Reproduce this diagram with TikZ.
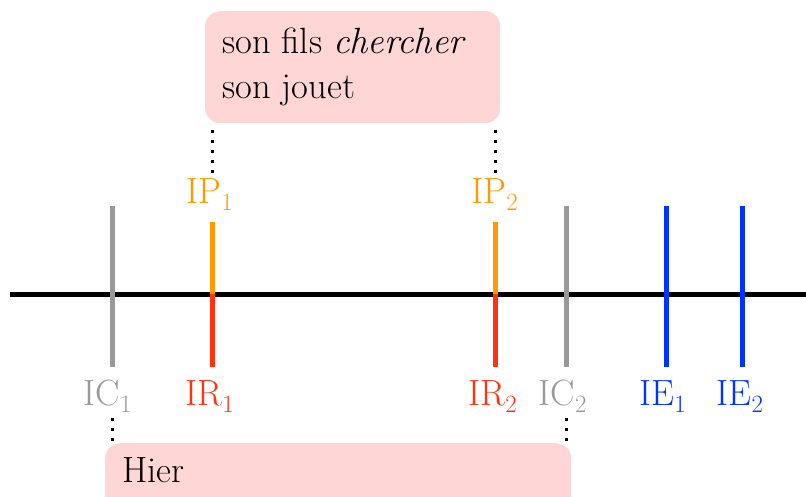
\documentclass[tikz,border=0pt]{standalone}
\usepackage{fontspec}
\begin{document}
\begin{tikzpicture}[x=1pt,y=-1pt,
  boxst/.style={fill=boxpink, rounded corners=15pt, inner sep=0pt},
  txt/.style={inner sep=0pt, font=\fontsize{36.5}{45}\selectfont},
  tick/.style={line width=5pt},
  conn/.style={line width=3pt, dash pattern=on 3pt off 7pt, line cap=butt}]
\definecolor{boxpink}{HTML}{FFD6D6}
\definecolor{ora}{HTML}{FF9900}
\definecolor{redd}{HTML}{FF3311}
\definecolor{bluu}{HTML}{0033FF}
\definecolor{gra}{HTML}{999999}
\useasboundingbox (0,0) rectangle (806,496);
\clip (0,0) rectangle (806,496);
% boxes
\node[boxst, minimum width=295pt, minimum height=112pt, anchor=north west] (top) at (205,11) {};
\node[txt, anchor=base west] (t1) at (222,53) {son fils \textit{chercher}};
\node[txt, anchor=base west] (t2) at (222,98) {son jouet};
\node[boxst, minimum width=466pt, minimum height=80pt, anchor=north west] (bot) at (105,443) {};
\node[txt, anchor=base west] (t3) at (122,482) {Hier};
% axis
\coordinate (a0) at (10,294);
\coordinate (a1) at (806,294);
\draw[line width=5pt] (a0) -- (a1);
% ticks
\coordinate (c1t) at (112,206); \coordinate (c1b) at (112,367);
\coordinate (c2t) at (566,206); \coordinate (c2b) at (566,367);
\coordinate (e1t) at (666,206); \coordinate (e1b) at (666,367);
\coordinate (e2t) at (742,206); \coordinate (e2b) at (742,367);
\coordinate (p1t) at (212,222); \coordinate (p1m) at (212,294); \coordinate (p1b) at (212,367);
\coordinate (p2t) at (495,222); \coordinate (p2m) at (495,294); \coordinate (p2b) at (495,367);
\draw[tick, gra] (c1t) -- (c1b);
\draw[tick, gra] (c2t) -- (c2b);
\draw[tick, bluu] (e1t) -- (e1b);
\draw[tick, bluu] (e2t) -- (e2b);
\draw[tick, ora] (p1t) -- (p1m);
\draw[tick, redd] (p1m) -- (p1b);
\draw[tick, ora] (p2t) -- (p2m);
\draw[tick, redd] (p2m) -- (p2b);
% labels
\node[txt, ora, anchor=base] (IP1) at (210,203) {IP$_1$};
\node[txt, ora, anchor=base] (IP2) at (495,203) {IP$_2$};
\node[txt, gra, anchor=base] (IC1) at (108,405) {IC$_1$};
\node[txt, redd, anchor=base] (IR1) at (210,405) {IR$_1$};
\node[txt, redd, anchor=base] (IR2) at (493,405) {IR$_2$};
\node[txt, gra, anchor=base] (IC2) at (563,405) {IC$_2$};
\node[txt, bluu, anchor=base] (IE1) at (663,405) {IE$_1$};
\node[txt, bluu, anchor=base] (IE2) at (740,405) {IE$_2$};
% dotted connectors
\coordinate (d1a) at (212,173); \coordinate (d1b) at (212,124);
\coordinate (d2a) at (495,173); \coordinate (d2b) at (495,124);
\coordinate (d3a) at (112,418); \coordinate (d3b) at (112,445);
\coordinate (d4a) at (566,418); \coordinate (d4b) at (566,445);
\draw[conn] (d1a) -- (d1b);
\draw[conn] (d2a) -- (d2b);
\draw[conn] (d3a) -- (d3b);
\draw[conn] (d4a) -- (d4b);
\end{tikzpicture}
\end{document}
